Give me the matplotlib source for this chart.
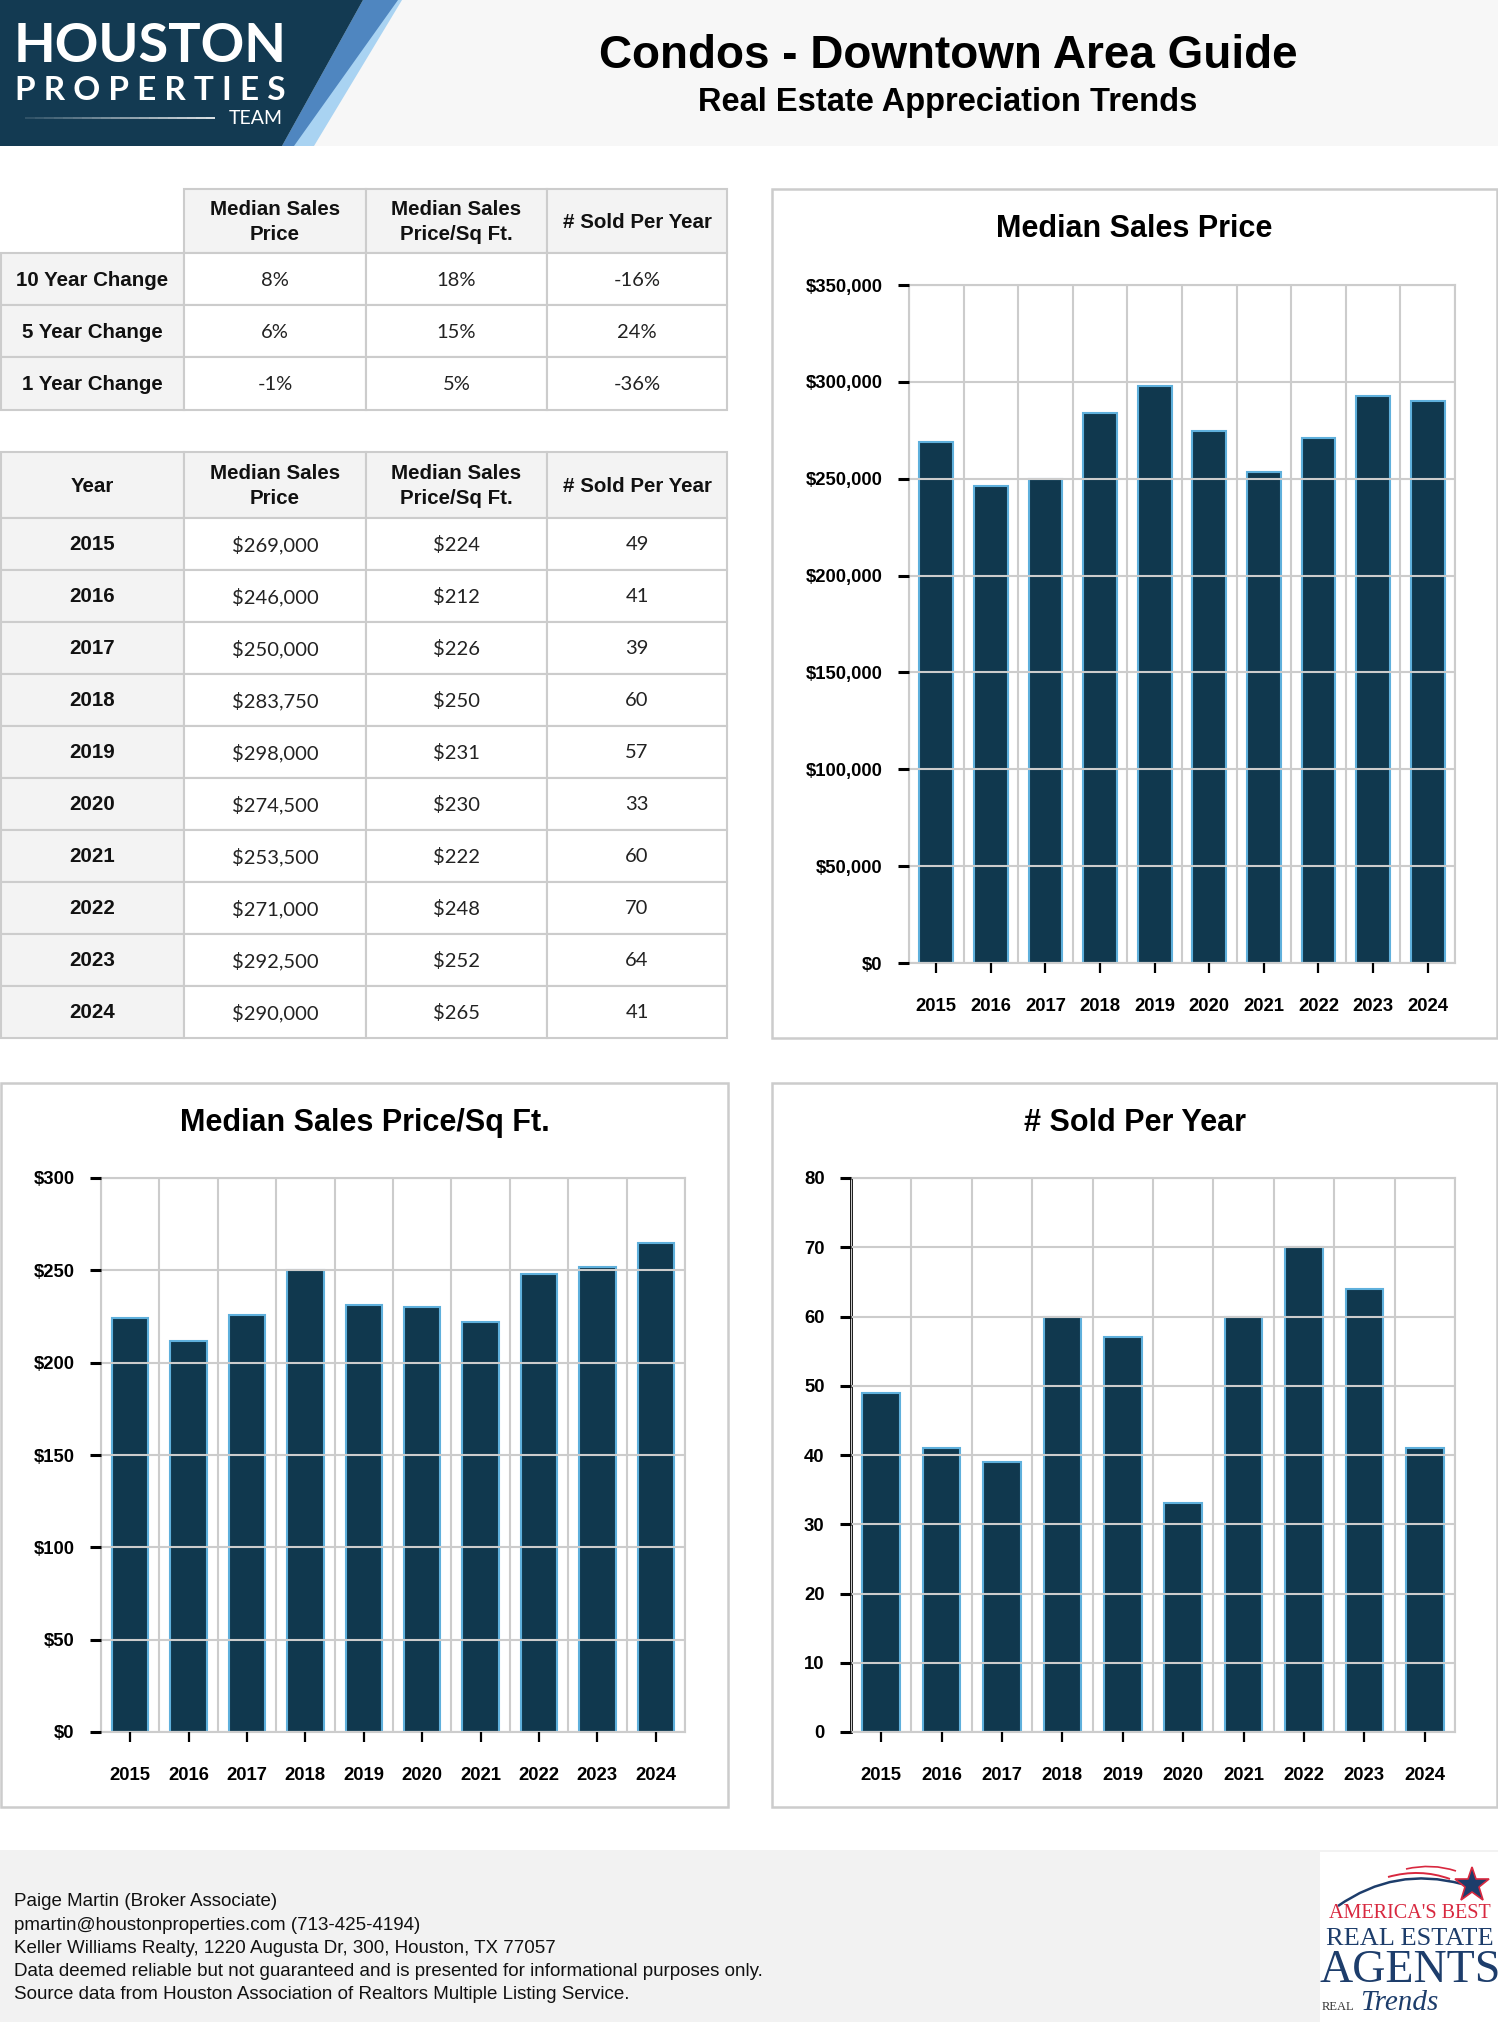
import numpy as np
import matplotlib
matplotlib.use('Agg')
import matplotlib.pyplot as plt
from matplotlib.patches import Rectangle, Polygon, PathPatch
from matplotlib.path import Path
from matplotlib.ticker import FuncFormatter

plt.rcParams['font.family'] = ['Liberation Sans', 'DejaVu Sans']

# data
years = [2015, 2016, 2017, 2018, 2019, 2020, 2021, 2022, 2023, 2024]
median_price = [269000, 246000, 250000, 283750, 298000, 274500, 253500, 271000, 292500, 290000]
price_sqft = [224, 212, 226, 250, 231, 230, 222, 248, 252, 265]
sold_per_year = [49, 41, 39, 60, 57, 33, 60, 70, 64, 41]

change_rows = ['10 Year Change', '5 Year Change', '1 Year Change']
change_price = ['8%', '6%', '-1%']
change_sqft = ['18%', '15%', '5%']
change_sold = ['-16%', '24%', '-36%']
col_heads = ['Median Sales\nPrice', 'Median Sales\nPrice/Sq Ft.', '# Sold Per Year']

footer_lines = [
    'Paige Martin (Broker Associate)',
    'pmartin@houstonproperties.com (713-425-4194)',
    'Keller Williams Realty, 1220 Augusta Dr, 300, Houston, TX 77057',
    'Data deemed reliable but not guaranteed and is presented for informational purposes only.',
    'Source data from Houston Association of Realtors Multiple Listing Service.',
]

NAVY = '#133a52'
BAR = '#10384e'
EDGE = '#5fb0dc'
GRID = '#cccccc'
HEAD = '#f3f3f3'

W, H = 1498, 2022
fig = plt.figure(figsize=(W / 100, H / 100), dpi=100)
fig.patch.set_facecolor('white')

# background layer in pixel coords (y down)
bg = fig.add_axes([0, 0, 1, 1], zorder=0)
bg.set_xlim(0, W)
bg.set_ylim(H, 0)
bg.axis('off')

# header band + logo
bg.add_patch(Rectangle((0, 0), W, 146, facecolor='#f7f7f7', edgecolor='none'))
bg.add_patch(Polygon([(363, 0), (402, 0), (314, 146), (282, 146)], closed=True,
                     facecolor='#a9d3f2', edgecolor='none'))
bg.add_patch(Polygon([(363, 0), (398, 0), (294, 146), (282, 146)], closed=True,
                     facecolor='#4f86c0', edgecolor='none'))
bg.add_patch(Polygon([(0, 0), (363, 0), (282, 146), (0, 146)], closed=True,
                     facecolor=NAVY, edgecolor='none'))
bg.text(14, 46, 'HOUSTON', color='white', fontsize=39, fontweight='bold',
        family='Lato', ha='left', va='center')
bg.text(15, 90, 'P R O P E R T I E S', color='white', fontsize=24, fontweight='bold',
        family='Lato', ha='left', va='center')
bg.text(283, 118, 'TEAM', color='white', fontsize=14, family='Lato',
        ha='right', va='center')
for i in range(20):
    xa = 25 + i * 9.5
    bg.plot([xa, xa + 9.5], [118, 118], color='white', lw=1.2, alpha=0.15 + 0.85 * i / 19,
            solid_capstyle='butt')

bg.text(948, 56, 'Condos - Downtown Area Guide', fontsize=33, fontweight='bold',
        ha='center', va='center')
bg.text(948, 102, 'Real Estate Appreciation Trends', fontsize=23.5, fontweight='bold',
        ha='center', va='center')


def cell(x0, x1, y0, y1, fill, text, kind):
    bg.add_patch(Rectangle((x0, y0), x1 - x0, y1 - y0, facecolor=fill,
                           edgecolor=GRID, lw=1.5))
    if kind == 'value':
        bg.text((x0 + x1) / 2, (y0 + y1) / 2 + 1, text, fontsize=14.5, family='Lato',
                ha='center', va='center', color='#222222')
    else:
        bg.text((x0 + x1) / 2, (y0 + y1) / 2 + 1, text, fontsize=14.8, fontweight='bold',
                ha='center', va='center', linespacing=1.4, color='#111111')


cols = [1, 184, 366, 547, 727]

# change table
t1_rows = [189, 253, 305, 357, 410]
for j, head in enumerate(col_heads):
    cell(cols[j + 1], cols[j + 2], t1_rows[0], t1_rows[1], HEAD, head, 'head')
for i, lab in enumerate(change_rows):
    y0, y1 = t1_rows[i + 1], t1_rows[i + 2]
    cell(cols[0], cols[1], y0, y1, HEAD, lab, 'head')
    for j, v in enumerate([change_price[i], change_sqft[i], change_sold[i]]):
        cell(cols[j + 1], cols[j + 2], y0, y1, 'white', v, 'value')

# yearly table
t2_rows = [452] + list(np.linspace(518, 1038, len(years) + 1))
cell(cols[0], cols[1], t2_rows[0], t2_rows[1], HEAD, 'Year', 'head')
for j, head in enumerate(col_heads):
    cell(cols[j + 1], cols[j + 2], t2_rows[0], t2_rows[1], HEAD, head, 'head')
for i, yr in enumerate(years):
    y0, y1 = t2_rows[i + 1], t2_rows[i + 2]
    cell(cols[0], cols[1], y0, y1, HEAD, str(yr), 'head')
    vals = [f'${median_price[i]:,}', f'${price_sqft[i]}', str(sold_per_year[i])]
    for j, v in enumerate(vals):
        cell(cols[j + 1], cols[j + 2], y0, y1, 'white', v, 'value')


def px_axes(x0, y0, x1, y1):
    return fig.add_axes([x0 / W, 1 - y1 / H, (x1 - x0) / W, (y1 - y0) / H], zorder=2)


def panel(x0, y0, x1, y1, title):
    bg.add_patch(Rectangle((x0, y0), x1 - x0, y1 - y0, facecolor='white',
                           edgecolor=GRID, lw=1.8))
    bg.text((x0 + x1) / 2, y0 + 40, title, fontsize=22, fontweight='bold',
            ha='center', va='center')


def bar_chart(ax, vals, ymax, step, fmt, xpad, left_black=False):
    x = np.arange(len(years))
    ax.bar(x, vals, width=0.62, color=BAR, edgecolor=EDGE, linewidth=1.5, zorder=2)
    ax.set_xlim(-0.5, len(years) - 0.5)
    ax.set_ylim(0, ymax)
    ax.set_xticks(x)
    ax.set_xticklabels([str(y) for y in years])
    ax.set_xticks(np.arange(-0.5, len(years), 1), minor=True)
    ax.set_yticks(np.arange(0, ymax + 1, step))
    ax.yaxis.set_major_formatter(FuncFormatter(fmt))
    ax.set_axisbelow(False)
    ax.grid(axis='y', which='major', color=GRID, lw=1.5)
    ax.grid(axis='x', which='minor', color=GRID, lw=1.5)
    ax.tick_params(axis='x', which='minor', length=0)
    ax.tick_params(axis='x', which='major', length=7, width=1.6, color='black',
                   pad=xpad, labelsize=13.3)
    ax.tick_params(axis='y', length=8, width=2.2, color='black', pad=11, labelsize=13.3)
    for sp in ax.spines.values():
        sp.set_color(GRID)
        sp.set_linewidth(1.5)
    if left_black:
        ax.spines['left'].set_color('black')
        ax.spines['left'].set_linewidth(2)
    for lab in ax.get_xticklabels() + ax.get_yticklabels():
        lab.set_fontweight('bold')


panel(772, 189, 1497, 1038, 'Median Sales Price')
panel(1, 1083, 728, 1807, 'Median Sales Price/Sq Ft.')
panel(772, 1083, 1497, 1807, '# Sold Per Year')

ax1 = px_axes(909, 285, 1455, 963)
bar_chart(ax1, median_price, 350000, 50000, lambda v, p: f'${int(v):,}', xpad=18)

ax2 = px_axes(101, 1178, 685, 1732)
bar_chart(ax2, price_sqft, 300, 50, lambda v, p: f'${int(v)}', xpad=18)

ax3 = px_axes(851, 1178, 1455, 1732)
bar_chart(ax3, sold_per_year, 80, 10, lambda v, p: f'{int(v)}', xpad=18, left_black=True)

# footer
bg.add_patch(Rectangle((0, 1850), W, H - 1850, facecolor='#f2f2f2', edgecolor='none'))
for k, line in enumerate(footer_lines):
    bg.text(14, 1902 + k * 23.2, line, fontsize=13.5, ha='left', va='center', color='#111111')

# award badge
bg.add_patch(Rectangle((1320, 1852), W - 1320, H - 1852, facecolor='white', edgecolor='none'))
bg.add_patch(PathPatch(Path([(1338, 1906), (1395, 1866), (1462, 1884)],
                            [Path.MOVETO, Path.CURVE3, Path.CURVE3]),
                       facecolor='none', edgecolor='#1d3d6b', lw=1.8))
bg.add_patch(PathPatch(Path([(1388, 1877), (1420, 1868), (1450, 1879)],
                            [Path.MOVETO, Path.CURVE3, Path.CURVE3]),
                       facecolor='none', edgecolor='#d8283f', lw=1.4))
bg.add_patch(PathPatch(Path([(1406, 1869), (1432, 1863), (1456, 1871)],
                            [Path.MOVETO, Path.CURVE3, Path.CURVE3]),
                       facecolor='none', edgecolor='#d8283f', lw=1.2))
bg.plot(1472, 1885, marker='*', ms=26, color='#1d3d6b', mec='#d8283f', mew=1.2)
bg.text(1410, 1913, "AMERICA'S BEST", fontsize=14.5, family='Liberation Serif',
        color='#d8283f', ha='center', va='center')
bg.text(1410, 1939, 'REAL ESTATE', fontsize=19, family='Liberation Serif',
        color='#1d3d6b', ha='center', va='center')
bg.text(1410, 1971, 'AGENTS', fontsize=33, family='Liberation Serif',
        color='#1d3d6b', ha='center', va='center')
bg.text(1322, 2007, 'REAL', fontsize=9, family='Liberation Serif',
        color='#333333', ha='left', va='center')
bg.text(1360, 2003, 'Trends', fontsize=21, family='Liberation Serif', style='italic',
        color='#1d3d6b', ha='left', va='center')

fig.savefig('out.png', dpi=100, facecolor='white')
